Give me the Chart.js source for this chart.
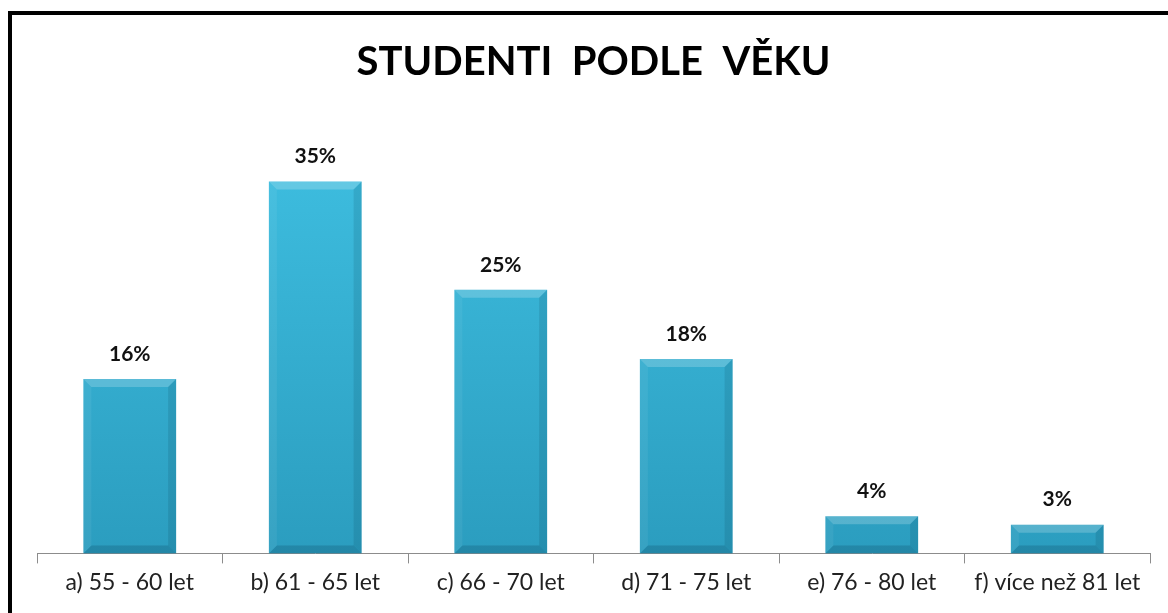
<!DOCTYPE html>
<html><head><meta charset="utf-8">
<script src="https://cdn.jsdelivr.net/npm/chart.js@4.4.0/dist/chart.umd.min.js"></script>
<style>
html,body{margin:0;padding:0;background:#fff;}
#wrap{position:absolute;left:0;top:0;width:1168px;height:613px;}
#frame{position:absolute;left:8px;top:11px;width:1170px;height:620px;border-top:4px solid #000;border-left:4px solid #000;box-sizing:border-box;pointer-events:none;}
</style></head>
<body>
<div id="wrap"><canvas id="c" width="1168" height="613"></canvas></div>
<div id="frame"></div>
<script>
const categories = ["a) 55 - 60 let","b) 61 - 65 let","c) 66 - 70 let","d) 71 - 75 let","e) 76 - 80 let","f) více než 81 let"];
const values = [16.4, 35.0, 24.8, 18.3, 3.5, 2.7];
const titleText = "STUDENTI  PODLE  VĚKU";

const bevelPlugin = {
  id:'bevel',
  afterDatasetsDraw(chart){
    const ctx = chart.ctx;
    chart.getDatasetMeta(0).data.forEach(bar=>{
      const w = bar.width, x0 = bar.x - w/2, x1 = bar.x + w/2, y0 = bar.y, y1 = bar.base;
      const b = Math.min(8, (y1-y0)/3);
      ctx.save();
      ctx.fillStyle='rgba(255,255,255,0.20)';
      ctx.beginPath();ctx.moveTo(x0,y0);ctx.lineTo(x1,y0);ctx.lineTo(x1-b,y0+b);ctx.lineTo(x0+b,y0+b);ctx.closePath();ctx.fill();
      ctx.fillStyle='rgba(255,255,255,0.06)';
      ctx.beginPath();ctx.moveTo(x0,y0);ctx.lineTo(x0+b,y0+b);ctx.lineTo(x0+b,y1-b);ctx.lineTo(x0,y1);ctx.closePath();ctx.fill();
      ctx.fillStyle='rgba(0,40,60,0.12)';
      ctx.beginPath();ctx.moveTo(x1,y0);ctx.lineTo(x1-b,y0+b);ctx.lineTo(x1-b,y1-b);ctx.lineTo(x1,y1);ctx.closePath();ctx.fill();
      ctx.fillStyle='rgba(0,40,60,0.18)';
      ctx.beginPath();ctx.moveTo(x0,y1);ctx.lineTo(x0+b,y1-b);ctx.lineTo(x1-b,y1-b);ctx.lineTo(x1,y1);ctx.closePath();ctx.fill();
      ctx.restore();
    });
  },
  afterDraw(chart){
    const ctx = chart.ctx;
    ctx.save();
    ctx.font = 'bold 21px Lato';
    ctx.fillStyle='#111';
    ctx.textAlign='center';ctx.textBaseline='middle';
    chart.getDatasetMeta(0).data.forEach((bar,i)=>{
      ctx.fillText(Math.round(values[i])+'%', bar.x, bar.y-25);
    });
    ctx.restore();
  }
};

new Chart(document.getElementById('c'),{
  type:'bar',
  data:{labels:categories,datasets:[{
    data:values,
    barPercentage:0.5,categoryPercentage:1.0,
    backgroundColor:(c)=>{
      const ch=c.chart, a=ch.chartArea;
      if(!a) return '#35b0d4';
      const g=ch.ctx.createLinearGradient(0,a.top,0,a.bottom);
      g.addColorStop(0,'#3fc0e2');g.addColorStop(1,'#2b9dbf');
      return g;
    },
    borderWidth:0
  }]},
  options:{
    responsive:false,animation:false,
    layout:{padding:{left:37,right:18,top:0,bottom:12}},
    plugins:{
      legend:{display:false},tooltip:{enabled:false},
      title:{display:true,text:titleText,color:'#000',font:{family:'Lato',size:40,weight:'bold'},padding:{top:38,bottom:38}}
    },
    scales:{
      x:{offset:true,
        grid:{offset:true,drawOnChartArea:false,drawTicks:true,tickLength:10,color:'#8c8c8c'},
        border:{color:'#8c8c8c',width:1},
        ticks:{color:'#222',font:{family:'Lato',size:23},padding:5,maxRotation:0}
      },
      y:{display:false,min:0,max:40.4}
    }
  },
  plugins:[bevelPlugin]
});
</script>
</body></html>
